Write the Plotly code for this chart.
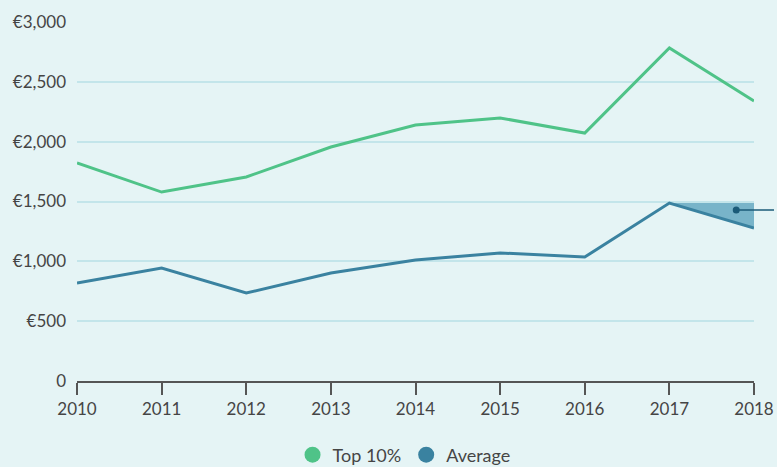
import plotly.graph_objects as go

years = [2010, 2011, 2012, 2013, 2014, 2015, 2016, 2017, 2018]
top10 = [1822, 1579, 1705, 1955, 2139, 2198, 2072, 2783, 2340]
average = [819, 944, 735, 902, 1011, 1070, 1036, 1487, 1278]
ytick_vals = [0, 500, 1000, 1500, 2000, 2500, 3000]
ytick_text = ["0", "€500", "€1,000", "€1,500", "€2,000", "€2,500", "€3,000"]

# highlighted drop between 2017 and 2018
drop_x = [2017, 2018, 2018]
drop_y = [average[7], average[7], average[8]]
note_x = [2017.79]
note_y = [1429]

GREEN = "#4fc388"
BLUE = "#3a82a0"
BG = "#e5f4f5"
FONT = "Lato"

fig = go.Figure()
fig.add_trace(go.Scatter(x=drop_x, y=drop_y, fill="toself", mode="lines",
                         line=dict(width=0), fillcolor="#78b4c9",
                         showlegend=False, hoverinfo="skip"))
fig.add_trace(go.Scatter(x=years, y=top10, mode="lines", name="Top 10%",
                         line=dict(color=GREEN, width=3), showlegend=False))
fig.add_trace(go.Scatter(x=years, y=average, mode="lines", name="Average",
                         line=dict(color=BLUE, width=3), showlegend=False))
# legend entries with round markers
fig.add_trace(go.Scatter(x=[None], y=[None], mode="markers", name="Top 10%",
                         marker=dict(color=GREEN, size=16)))
fig.add_trace(go.Scatter(x=[None], y=[None], mode="markers", name="Average",
                         marker=dict(color=BLUE, size=16)))
fig.add_trace(go.Scatter(x=note_x, y=note_y, mode="markers", showlegend=False,
                         marker=dict(color="#1b5b78", size=7), cliponaxis=False,
                         hoverinfo="skip"))
fig.add_annotation(x=note_x[0], y=note_y[0], xref="x", yref="y", text=" ",
                   showarrow=True, arrowhead=0, arrowwidth=1.5, arrowcolor="#1b5b78",
                   ax=60, ay=0, xanchor="left")

fig.update_layout(
    width=777, height=467,
    margin=dict(l=77, r=23, t=22, b=86, autoexpand=False),
    paper_bgcolor=BG, plot_bgcolor=BG,
    font=dict(family=FONT, size=17, color="#454545"),
    showlegend=True,
    legend=dict(orientation="h", x=0.52, xanchor="center", xref="container",
                y=12 / 467, yanchor="middle", yref="container",
                font=dict(family=FONT, size=18, color="#454545"),
                itemsizing="trace", bgcolor="rgba(0,0,0,0)"),
    xaxis=dict(range=[2010, 2018], tickvals=years, ticktext=[str(y) for y in years],
               showgrid=False, zeroline=False, showline=True, linecolor="#555555",
               linewidth=2, ticks="outside", ticklen=12, tickwidth=2,
               tickcolor="#555555", fixedrange=True, automargin=False),
    yaxis=dict(range=[0, 3000], tickvals=ytick_vals, ticktext=ytick_text,
               showgrid=True, gridcolor="#c3e5ea", gridwidth=1.5, zeroline=False,
               showline=False, ticks="", ticklabelstandoff=10, automargin=False),
)
fig.write_html("out.html", config={"displayModeBar": False},
               post_script="document.body.style.margin='0';document.body.style.overflow='hidden';")
